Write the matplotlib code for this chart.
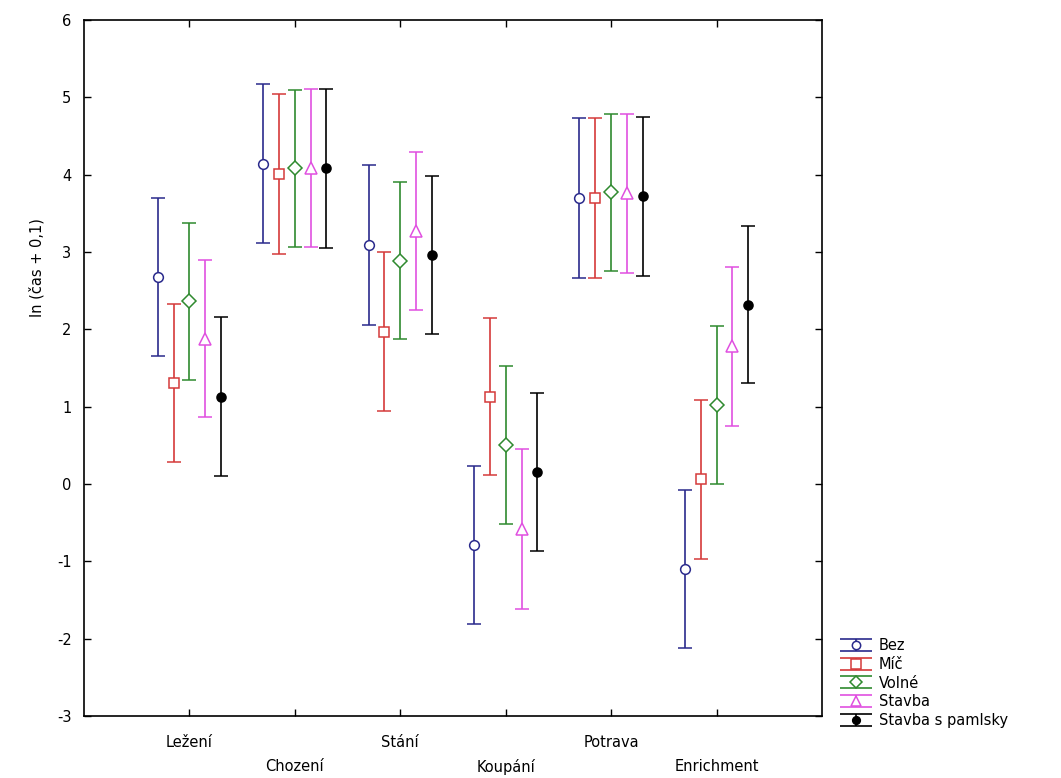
"""
Mean ln(time + 0.1) per behaviour for each enrichment condition, with CI bars.
"""
import matplotlib
matplotlib.use('Agg')
import matplotlib.pyplot as plt
import numpy as np
from matplotlib.path import Path
from matplotlib.lines import Line2D
from matplotlib.legend_handler import HandlerTuple

plt.rcParams['font.family'] = ['DejaVu Sans']
plt.rcParams['axes.unicode_minus'] = False

categories = ['Ležení', 'Chození', 'Stání', 'Koupání', 'Potrava', 'Enrichment']
series_names = ['Bez', 'Míč', 'Volné', 'Stavba', 'Stavba s pamlsky']

bez = [2.68, 4.14, 3.09, -0.79, 3.70, -1.10]
mic = [1.31, 4.01, 1.97, 1.13, 3.70, 0.06]
volne = [2.36, 4.08, 2.89, 0.50, 3.77, 1.02]
stavba = [1.88, 4.09, 3.27, -0.58, 3.76, 1.78]
pamlsky = [1.13, 4.08, 2.96, 0.16, 3.72, 2.32]

# half-width of the interval bars
err_bez = [1.02, 1.03, 1.03, 1.02, 1.03, 1.02]
err_mic = [1.02, 1.03, 1.03, 1.02, 1.03, 1.03]
err_volne = [1.02, 1.02, 1.02, 1.02, 1.02, 1.02]
err_stavba = [1.02, 1.02, 1.02, 1.03, 1.03, 1.03]
err_pamlsky = [1.03, 1.03, 1.02, 1.02, 1.03, 1.02]

means = [bez, mic, volne, stavba, pamlsky]
errs = [err_bez, err_mic, err_volne, err_stavba, err_pamlsky]
colors = ['#2a2a8c', '#d53a3a', '#2f8a2f', '#e050e0', '#000000']
markers = ['o', 's', 'D', '^', 'o']
msizes = [7, 7.5, 6.8, 8, 6.5]
offsets = [-0.3, -0.15, 0.0, 0.15, 0.3]

fig = plt.figure(figsize=(10.61, 7.78), dpi=100)
ax = fig.add_axes([0.0792, 0.0797, 0.6955, 0.8946])

x = np.arange(1, len(categories) + 1)
for i in range(len(series_names)):
    filled = i == 4
    ax.errorbar(x + offsets[i], means[i], yerr=errs[i], fmt=markers[i],
                color=colors[i], ecolor=colors[i], elinewidth=1.2,
                capsize=5, capthick=1.2, markersize=msizes[i],
                markerfacecolor=colors[i] if filled else 'white',
                markeredgecolor=colors[i], markeredgewidth=1.1, zorder=3)

ax.set_xlim(0, 7)
ax.set_ylim(-3, 6)
ax.set_yticks(range(-3, 7))
ax.set_xticks(x)
ax.set_xticklabels(categories, fontsize=10.5)
ax.tick_params(axis='y', labelsize=10.5, pad=9)
ax.tick_params(direction='in', length=5, width=1, top=True, right=True)
for i, t in enumerate(ax.xaxis.get_major_ticks()):
    t.set_pad(14 if i % 2 == 0 else 31)
for sp in ax.spines.values():
    sp.set_linewidth(1.2)

ax.set_ylabel('ln (čas + 0,1)', fontsize=10.5)
ax.yaxis.set_label_coords(-0.053, 0.644)

# legend handle: vertical bar with wide caps plus the marker
bar_path = Path([(-1, 0.4), (1, 0.4), (0, 0.4), (0, -0.4), (-1, -0.4), (1, -0.4)],
                [Path.MOVETO, Path.LINETO, Path.MOVETO, Path.LINETO, Path.MOVETO, Path.LINETO])
handles = []
for i in range(len(series_names)):
    bar = Line2D([], [], linestyle='none', marker=bar_path, markersize=23,
                 markeredgecolor=colors[i], markerfacecolor='none', markeredgewidth=1.2)
    mk = Line2D([], [], linestyle='none', marker=markers[i], markersize=msizes[i] - 1,
                markeredgecolor=colors[i], markeredgewidth=1.1,
                markerfacecolor=colors[i] if i == 4 else 'white')
    handles.append((bar, mk))

fig.legend(handles, series_names, handler_map={tuple: HandlerTuple(ndivide=1)},
           loc='upper left', bbox_to_anchor=(832 / 1061, 1 - 631 / 778),
           frameon=False, fontsize=10.5, handlelength=2.3, handletextpad=0.4,
           labelspacing=0.25, borderpad=0)

fig.savefig('out.png', dpi=100)
